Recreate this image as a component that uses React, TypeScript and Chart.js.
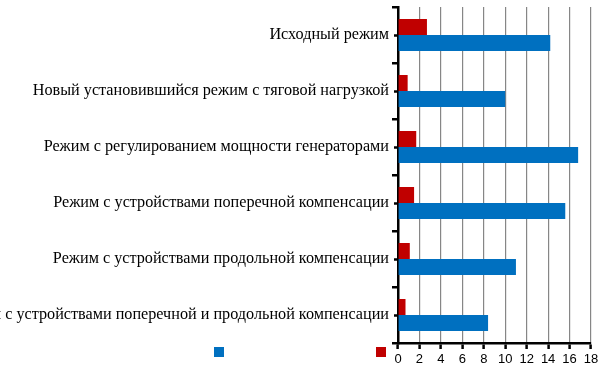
import React, { useEffect, useRef } from "react";
import { Chart, registerables } from "chart.js";

Chart.register(...registerables);

const categories = [
  "Исходный режим",
  "Новый установившийся режим с тяговой нагрузкой",
  "Режим с регулированием мощности генераторами",
  "Режим с устройствами поперечной компенсации",
  "Режим с устройствами продольной компенсации",
  "Режим с устройствами поперечной и продольной компенсации",
];
const redValues = [2.7, 0.9, 1.7, 1.5, 1.1, 0.7];
const blueValues = [14.2, 10.0, 16.8, 15.6, 11.0, 8.4];
const xMin = 0;
const xMax = 18;
const xStep = 2;

const RED = "#C00000";
const BLUE = "#0070C0";

const extrasPlugin = {
  id: "extras",
  afterDraw(chart: any) {
    const ctx = chart.ctx;
    const y = chart.scales.y;
    ctx.save();
    ctx.strokeStyle = "#000";
    ctx.lineWidth = 2.5;
    for (let i = 0; i < categories.length; i++) {
      const py = Math.round(y.getPixelForValue(i)) + 0.5;
      ctx.beginPath();
      ctx.moveTo(y.right - 4, py);
      ctx.lineTo(y.right, py);
      ctx.stroke();
    }
    const ds = chart.data.datasets;
    const legendItems = [
      { color: ds[1].backgroundColor, x: 214 },
      { color: ds[0].backgroundColor, x: 376 },
    ];
    for (const it of legendItems) {
      ctx.fillStyle = it.color;
      ctx.fillRect(it.x, 347, 10, 10);
    }
    ctx.restore();
  },
};

export default function App() {
  const ref = useRef<HTMLCanvasElement | null>(null);
  useEffect(() => {
    if (!ref.current) return;
    const chart = new Chart(ref.current, {
      type: "bar",
      data: {
        labels: categories,
        datasets: [
          {
            label: "",
            data: redValues,
            backgroundColor: RED,
            borderWidth: 0,
            categoryPercentage: 0.571,
            barPercentage: 1.0,
          },
          {
            label: "",
            data: blueValues,
            backgroundColor: BLUE,
            borderWidth: 0,
            categoryPercentage: 0.571,
            barPercentage: 1.0,
          },
        ],
      },
      options: {
        indexAxis: "y",
        responsive: false,
        animation: false,
        layout: { padding: { top: 7, right: 12, left: 0, bottom: 0 } },
        plugins: {
          legend: { display: false },
          tooltip: { enabled: false },
        },
        scales: {
          x: {
            type: "linear",
            min: xMin,
            max: xMax,
            ticks: {
              stepSize: xStep,
              color: "#000",
              padding: 3,
              font: { family: "Liberation Sans", size: 13 },
            },
            grid: {
              color: "#868686",
              lineWidth: 1.2,
              tickColor: "#000",
              tickWidth: 2.5,
              tickLength: 6,
            },
            border: { color: "#000", width: 2.5 },
            afterFit(scale: any) {
              scale.height = 30;
            },
          },
          y: {
            type: "category",
            offset: true,
            ticks: {
              color: "#000",
              padding: 3,
              font: { family: "Liberation Serif", size: 16.2 },
            },
            grid: {
              offset: true,
              drawOnChartArea: false,
              color: "#000",
              lineWidth: 2.5,
              tickLength: 6,
            },
            border: { color: "#000", width: 2.5 },
            afterFit(scale: any) {
              scale.width = 398;
              scale.paddingTop = 0;
              scale.paddingBottom = 0;
            },
          },
        },
      },
      plugins: [extrasPlugin],
    });
    return () => chart.destroy();
  }, []);
  return (
    <div style={{ position: "absolute", left: 0, top: 0, width: 603, height: 373, background: "#fff" }}>
      <canvas ref={ref} width={603} height={373} style={{ display: "block" }} />
    </div>
  );
}
